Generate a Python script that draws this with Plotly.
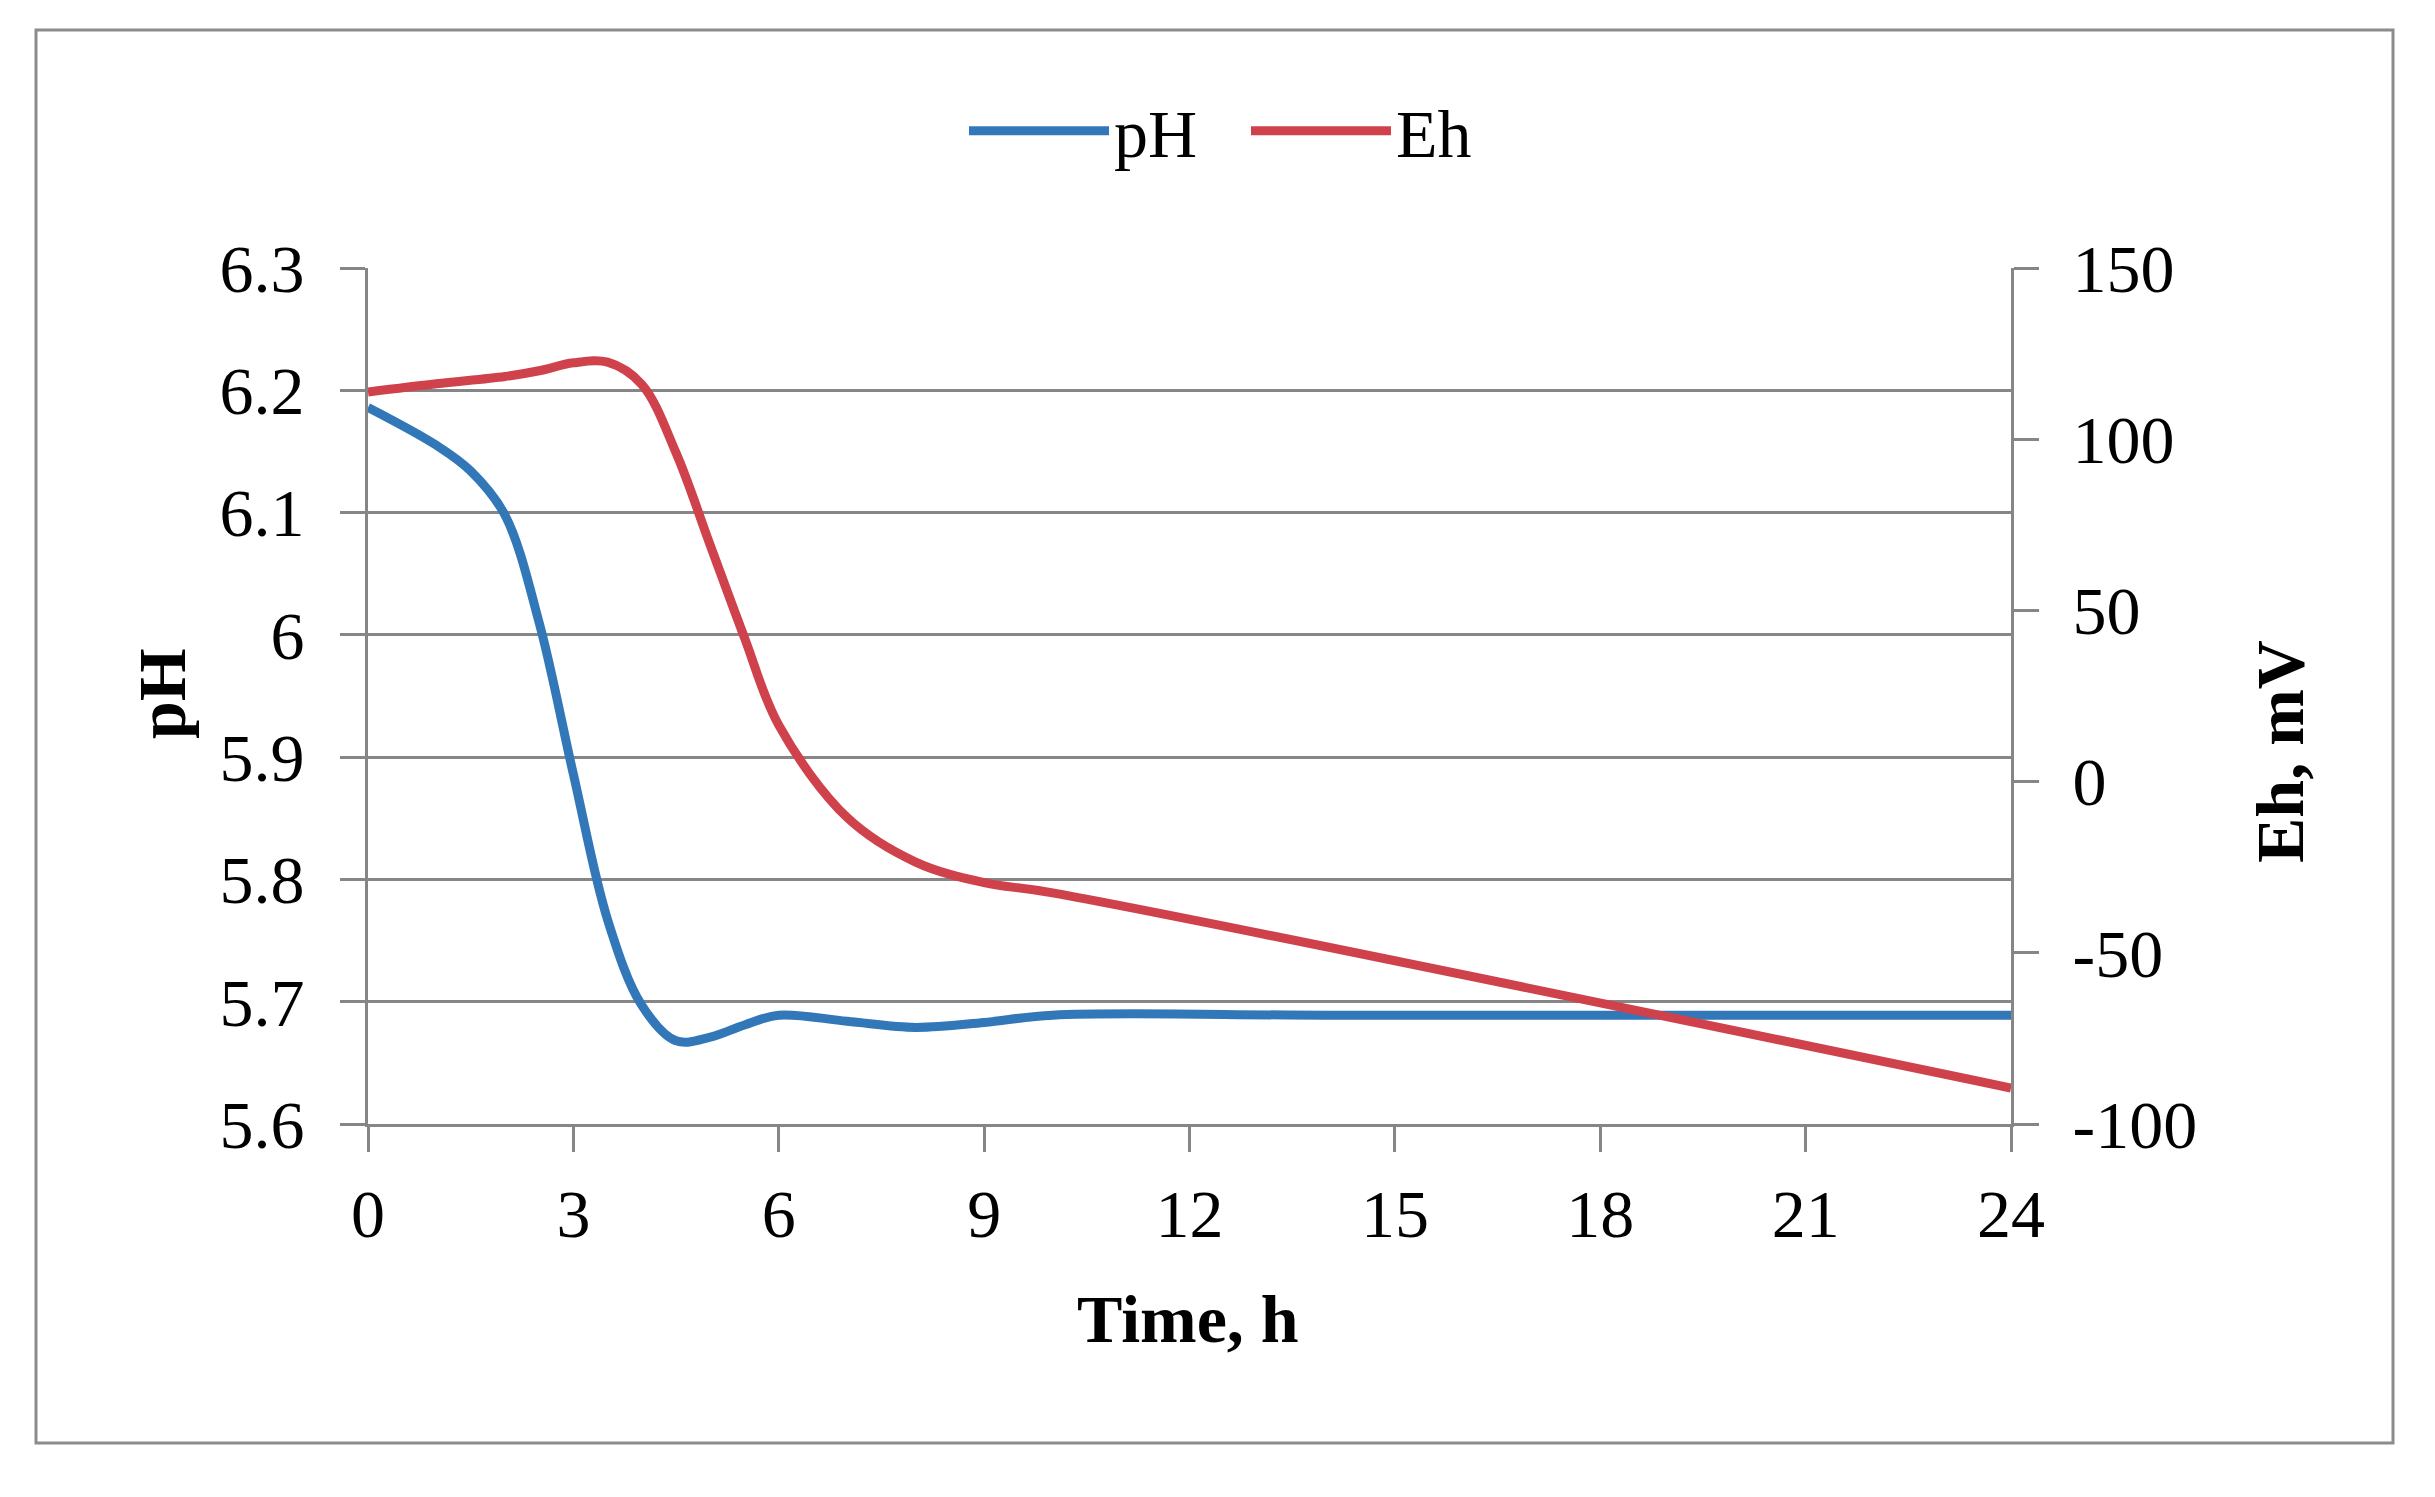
import plotly.graph_objects as go

# ---- data ----
ph_hours = [0, 1, 1.5, 2, 2.5, 3, 3.5, 4, 4.5, 5, 5.5, 6, 7, 8, 9, 10, 14, 19, 24]
ph_values = [6.186, 6.155, 6.134, 6.098, 6.010, 5.886, 5.767, 5.697, 5.668, 5.671, 5.681,
             5.689, 5.684, 5.679, 5.683, 5.689, 5.689, 5.689, 5.689]
eh_hours = [0, 1, 2, 2.5, 3, 3.5, 4, 4.5, 5, 5.5, 6, 7, 8, 9, 10, 24]
eh_values = [113.8, 116.2, 118.3, 120.0, 122.3, 122.5, 116.0, 96.0, 69.0, 42.0, 16.5,
             -10.5, -23.5, -29.5, -32.5, -89.5]

x_ticks = [0, 3, 6, 9, 12, 15, 18, 21, 24]
ph_tickvals = [5.6, 5.7, 5.8, 5.9, 6.0, 6.1, 6.2, 6.3]
ph_ticktext = ["5.6", "5.7", "5.8", "5.9", "6", "6.1", "6.2", "6.3"]
eh_tickvals = [-100, -50, 0, 50, 100, 150]
eh_ticktext = ["-100", "-50", "0", "50", "100", "150"]

# ---- layout geometry (pixels in the reference) ----
OFF = 8  # default page body margin
W, H = 2435 - 2 * OFF, 1497 - 2 * OFF
L, R, T, B = 368, 2011, 268, 1124
PW, PH = R - L, B - T


def px(x):
    return (x - L) / PW


def py(y):
    return (B - y) / PH


FONT = "Liberation Serif, Times New Roman, serif"
GRID = "#868686"
BLUE = "#3278b8"
RED = "#cf424c"
FS = 68
LW = 9

fig = go.Figure()
fig.add_trace(go.Scatter(x=ph_hours, y=ph_values, name="pH", mode="lines",
                         line=dict(color=BLUE, width=LW, shape="spline", smoothing=1.0),
                         yaxis="y"))
fig.add_trace(go.Scatter(x=eh_hours, y=eh_values, name="Eh", mode="lines",
                         line=dict(color=RED, width=LW, shape="spline", smoothing=1.0),
                         yaxis="y2"))

tick_common = dict(ticks="outside", ticklen=25, tickwidth=3, tickcolor=GRID,
                   showline=True, linecolor=GRID, linewidth=3, zeroline=False,
                   tickfont=dict(family=FONT, size=FS, color="black"))

fig.update_layout(
    width=W, height=H, autosize=False,
    margin=dict(l=L - OFF, r=W - (R - OFF), t=T - OFF, b=H - (B - OFF), pad=0),
    paper_bgcolor="white", plot_bgcolor="white",
    font=dict(family=FONT, size=FS, color="black"),
    xaxis=dict(range=[0, 24], tickvals=x_ticks, showgrid=False, ticklabelstandoff=3, **tick_common),
    yaxis=dict(range=[5.6, 6.3], tickvals=ph_tickvals, ticktext=ph_ticktext,
               showgrid=True, gridcolor=GRID, gridwidth=3, ticklabelstandoff=22, **tick_common),
    yaxis2=dict(range=[-100, 150], tickvals=eh_tickvals, ticktext=eh_ticktext,
                overlaying="y", side="right",
                showgrid=False, ticklabelstandoff=20, **tick_common),
    legend=dict(orientation="h", x=px(1246), xanchor="center", y=py(131), yanchor="middle",
                font=dict(family=FONT, size=FS, color="black"), itemwidth=140,
                entrywidth=127, entrywidthmode="pixels",
                bgcolor="rgba(0,0,0,0)"),
    showlegend=True,
)

fig.add_shape(type="rect", xref="paper", yref="paper",
              x0=px(36), x1=px(2393), y0=py(1443), y1=py(30),
              line=dict(color="#8c8c8c", width=3), layer="below")

fig.add_annotation(text="<b>pH</b>", xref="paper", yref="paper", x=px(162), y=py(693),
                   textangle=-90, showarrow=False, xanchor="center", yanchor="middle",
                   font=dict(family=FONT, size=FS, color="black"))
fig.add_annotation(text="<b>Eh, mV</b>", xref="paper", yref="paper", x=px(2280), y=py(752),
                   textangle=-90, showarrow=False, xanchor="center", yanchor="middle",
                   font=dict(family=FONT, size=FS, color="black"))
fig.add_annotation(text="<b>Time, h</b>", xref="paper", yref="paper", x=px(1188), y=py(1319),
                   showarrow=False, xanchor="center", yanchor="middle",
                   font=dict(family=FONT, size=FS, color="black"))

fig.write_html("out.html")
